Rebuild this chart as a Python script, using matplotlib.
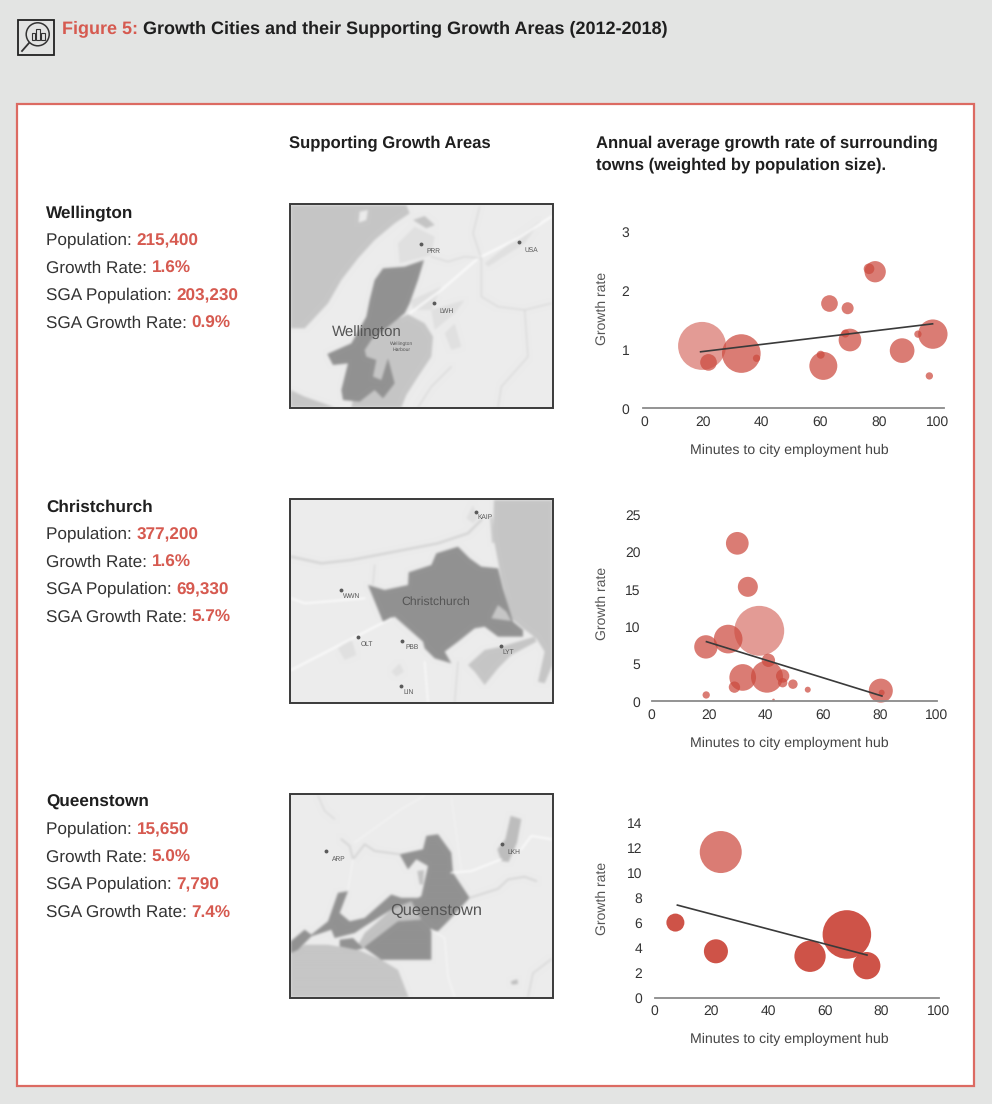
import numpy as np
import matplotlib
matplotlib.use("Agg")
import matplotlib.pyplot as plt
from matplotlib.patches import Polygon, Rectangle, Circle

plt.rcParams['font.family'] = ['Liberation Sans', 'DejaVu Sans']
plt.rcParams['text.hinting'] = 'no_hinting'
plt.rcParams['text.hinting_factor'] = 8

W, H = 992, 1104
BG = '#e3e4e3'
RED = '#d65a50'
DARK = '#1f1f1f'

# ---------- data ----------
cities = ['Wellington', 'Christchurch', 'Queenstown']
population = ['215,400', '377,200', '15,650']
growth = ['1.6%', '1.6%', '5.0%']
sga_population = ['203,230', '69,330', '7,790']
sga_growth = ['0.9%', '5.7%', '7.4%']

wel_minutes = [19.7, 21.9, 33.1, 38.3, 60.2, 61.1, 63.2, 69.4, 68.6, 70.2, 76.7, 78.8, 88.0, 93.4, 98.5, 97.3]
wel_rate = [1.06, 0.78, 0.93, 0.85, 0.91, 0.72, 1.78, 1.70, 1.27, 1.16, 2.37, 2.32, 0.98, 1.26, 1.26, 0.55]
wel_weight = [51.8, 6.25, 33.6, 1.2, 1.44, 17.6, 6.25, 3.24, 1.44, 11.6, 2.56, 10.2, 13.7, 1.2, 19.4, 1.2]
wel_trend_x = [19.2, 98.4]
wel_trend_y = [0.96, 1.435]

chc_minutes = [37.7, 30.0, 33.7, 26.8, 19.0, 40.9, 40.4, 31.9, 29.0, 45.9, 45.9, 49.5, 54.7, 19.1, 42.7, 80.3, 80.6]
chc_rate = [9.46, 21.2, 15.36, 8.35, 7.3, 5.5, 3.3, 3.2, 1.9, 3.4, 2.5, 2.3, 1.56, 0.85, 0.18, 1.43, 1.16]
chc_weight = [56, 11.6, 9, 18.5, 12.3, 4, 23, 16, 2.9, 4, 2, 2, 0.8, 1.2, 0.16, 13, 0.8]
chc_trend_x = [19.2, 80.7]
chc_trend_y = [8.0, 0.71]

qtn_minutes = [23.3, 7.3, 21.6, 54.8, 67.8, 74.8]
qtn_rate = [11.65, 6.0, 3.7, 3.3, 5.05, 2.55]
qtn_weight = [39.7, 7.3, 13, 22, 53, 16.8]
qtn_trend_x = [8.0, 74.9]
qtn_trend_y = [7.4, 3.4]

x_ticks = [0, 20, 40, 60, 80, 100]
wel_y_ticks = [0, 1, 2, 3]
chc_y_ticks = [0, 5, 10, 15, 20, 25]
qtn_y_ticks = [0, 2, 4, 6, 8, 10, 12, 14]

fig = plt.figure(figsize=(W / 100, H / 100), dpi=100, facecolor=BG)
page = fig.add_axes([0, 0, 1, 1])
page.set_xlim(0, W)
page.set_ylim(H, 0)
page.axis('off')
page.add_patch(Rectangle((17, 104), 957, 982, fc='white', ec='#dc6a62', lw=1.6))


def run_text(x, y, parts, size):
    """Lay out text fragments one after another along a baseline."""
    rend = fig.canvas.get_renderer()
    for string, color, weight in parts:
        t = page.text(x, y, string, color=color, fontweight=weight, fontsize=size, va='center', ha='left')
        x = t.get_window_extent(rend).x1


run_text(62, 29, [('Figure 5: ', RED, 'bold'),
                  ('Growth Cities and their Supporting Growth Areas (2012-2018)', DARK, 'bold')], 13.0)

# icon
page.add_patch(Rectangle((17.5, 20), 36, 35, fc='none', ec='#222222', lw=1.3))
page.add_patch(Circle((37.7, 34.3), 11.5, fc='none', ec='#333333', lw=1.1))
page.plot([29, 22], [43, 51], color='#333333', lw=1.3)
page.add_patch(Rectangle((32, 33), 3.4, 7, fc='none', ec='#333333', lw=0.8))
page.add_patch(Rectangle((36, 28.5), 4.4, 11.5, fc='none', ec='#333333', lw=0.8))
page.add_patch(Rectangle((41.3, 33), 3.6, 7, fc='none', ec='#333333', lw=0.8))

HEAD = 11.95
page.text(289, 143, 'Supporting Growth Areas', fontweight='bold', fontsize=HEAD, color=DARK, va='center')
page.text(596, 143, 'Annual average growth rate of surrounding', fontweight='bold', fontsize=HEAD, color=DARK, va='center')
page.text(596, 165, 'towns (weighted by population size).', fontweight='bold', fontsize=HEAD, color=DARK, va='center')

row_tops = [213, 507, 802]
for top, city, pop, gr, sp, sg in zip(row_tops, cities, population, growth, sga_population, sga_growth):
    page.text(46, top, city, fontweight='bold', fontsize=12.3, color=DARK, va='center')
    rows = [('Population: ', pop), ('Growth Rate: ', gr), ('SGA Population: ', sp), ('SGA Growth Rate: ', sg)]
    for dy, (lab, val) in zip((27.5, 55, 82.5, 110), rows):
        run_text(46, top + dy, [(lab, '#333333', 'normal'), (val, RED, 'bold')], 12.3)

# ---------- maps (schematic shapes in a 825 x 636 frame, softened like the scan) ----------
SEA = '#c6c6c6'
CITY = '#929292'
LAND = '#ececec'
PATCH = '#e0e0e0'


def soften(arr, sigma):
    r = int(3 * sigma)
    k = np.exp(-0.5 * (np.arange(-r, r + 1) / sigma) ** 2)
    k /= k.sum()
    out = np.pad(arr, ((r, r), (r, r), (0, 0)), mode='edge').astype(float)
    for ch in range(3):
        out[..., ch] = np.apply_along_axis(lambda v: np.convolve(v, k, mode='same'), 0, out[..., ch])
        out[..., ch] = np.apply_along_axis(lambda v: np.convolve(v, k, mode='same'), 1, out[..., ch])
    return out[r:-r, r:-r]


def draw_map(top, polys, lines, dots, labels):
    off = plt.figure(figsize=(5.5, 4.24), dpi=100, facecolor=LAND)
    oa = off.add_axes([0, 0, 1, 1])
    oa.set_xlim(0, 825)
    oa.set_ylim(636, 0)
    oa.axis('off')
    for pts, col in polys:
        oa.add_patch(Polygon(pts, closed=True, fc=col, ec='none'))
    for pts, col, lw in lines:
        xs, ys = zip(*pts)
        oa.plot(xs, ys, color=col, lw=lw, solid_joinstyle='round')
    off.canvas.draw()
    arr = np.asarray(off.canvas.buffer_rgba())[..., :3] / 255.0
    plt.close(off)
    arr = soften(arr, 2.4)

    ax = fig.add_axes([285 / W, 1 - (top + 212) / H, 275 / W, 212 / H])
    im = ax.imshow(arr, extent=(0, 825, 636, 0), aspect='auto', zorder=0, interpolation='bilinear')
    ax.set_xlim(0, 825)
    ax.set_ylim(636, 0)
    ax.axis('off')
    ax.patch.set_alpha(0)
    im.set_clip_path(Rectangle((16, 12), 789, 612, transform=ax.transData))
    for x, y, name, lx, ly in dots:
        ax.plot([x], [y], 'o', ms=2.8, color='#5a5a5a', mec='none', zorder=3)
        ax.text(lx, ly, name, fontsize=4.8, color='#555555', ha='center', va='center', zorder=3)
    for x, y, name, size in labels:
        ax.text(x, y, name, fontsize=size, color='#555555', ha='center', va='center', zorder=4)
    ax.add_patch(Rectangle((16, 12), 789, 612, fc='none', ec='#3a3a3a', lw=1.4, zorder=5))


draw_map(200,
    [([(18, 15), (365, 15), (375, 40), (330, 70), (270, 120), (220, 175), (170, 240), (130, 310), (60, 385), (18, 385)], SEA),
     ([(18, 570), (60, 590), (150, 622), (18, 622)], SEA),
     ([(225, 35), (250, 30), (245, 60), (222, 68)], LAND),
     ([(320, 365), (370, 343), (420, 370), (445, 410), (440, 470), (400, 530), (365, 585), (350, 622), (200, 622), (240, 440)], SEA),
     ([(385, 60), (420, 48), (450, 75), (425, 85)], '#c4c4c4'),
     ([(340, 130), (390, 80), (450, 110), (440, 165), (345, 190)], PATCH),
     ([(380, 300), (470, 260), (440, 330), (385, 330)], PATCH),
     ([(440, 330), (540, 300), (510, 340), (450, 390)], PATCH),
     ([(600, 190), (700, 110), (770, 60), (720, 130), (610, 200)], PATCH),
     ([(480, 400), (510, 370), (530, 440), (500, 450)], PATCH),
     ([(295, 205), (360, 200), (418, 180), (400, 240), (375, 310), (360, 340), (310, 380), (260, 420), (240, 450), (245, 470), (275, 480),
       (265, 530), (290, 540), (310, 475), (330, 550), (295, 595), (270, 570), (225, 605), (175, 600), (170, 570), (190, 490), (145, 495),
       (128, 462), (200, 430), (245, 350), (255, 300), (270, 240)], CITY)],
    [([(375, 340), (470, 270), (580, 175), (700, 115), (800, 50)], 'white', 2.6),
     ([(585, 20), (565, 100), (590, 175), (590, 290), (640, 320), (720, 330), (800, 310)], '#cdcdcd', 1.2),
     ([(720, 330), (730, 470), (650, 560), (640, 622)], '#cdcdcd', 1.2),
     ([(440, 170), (490, 185), (540, 170), (590, 175)], '#cdcdcd', 1.2),
     ([(500, 500), (440, 560), (400, 622)], '#cdcdcd', 1.2)],
    [(407, 132, 'PRR', 445, 155), (703, 125, 'USA', 740, 150), (447, 308, 'LWH', 485, 333)],
    [(245, 396, 'Wellington', 10.8), (350, 440, 'Wellington\nHarbour', 3.6)])

draw_map(495,
    [([(628, 15), (803, 15), (803, 510), (780, 565), (760, 560), (780, 470), (755, 430), (715, 400), (680, 370), (650, 250), (625, 120)], SEA),
     ([(545, 70), (565, 30), (580, 70), (565, 85)], PATCH),
     ([(160, 460), (200, 430), (215, 480), (180, 495)], PATCH),
     ([(320, 530), (345, 505), (358, 530), (335, 545)], PATCH),
     ([(250, 270), (300, 285), (370, 270), (372, 232), (440, 210), (455, 175), (520, 155), (555, 190), (590, 215), (640, 220), (655, 280),
       (685, 380), (715, 405), (715, 425), (640, 425), (600, 395), (570, 400), (520, 440), (480, 470), (500, 505), (450, 490), (420, 460),
       (415, 440), (330, 365), (295, 380)], CITY),
     ([(640, 330), (665, 350), (680, 378), (620, 370)], SEA),
     ([(550, 510), (600, 465), (650, 455), (750, 425), (755, 440), (680, 480), (640, 520), (600, 570), (570, 530)], SEA)],
    [([(20, 185), (110, 205), (200, 195), (330, 170), (460, 145), (550, 115), (590, 75)], '#d2d2d2', 3.2),
     ([(20, 310), (60, 325), (240, 310)], 'white', 2.2),
     ([(20, 525), (320, 370)], 'white', 2.4),
     ([(270, 210), (265, 268)], '#cccccc', 1.2),
     ([(620, 70), (625, 140)], '#cccccc', 3.5),
     ([(520, 500), (510, 622)], '#cccccc', 1.2),
     ([(420, 500), (430, 622)], 'white', 1.8)],
    [(572, 50, 'KAIP', 600, 67), (167, 284, 'WWN', 200, 303), (220, 427, 'OLT', 247, 446),
     (352, 437, 'PBB', 380, 456), (648, 452, 'LYT', 670, 472), (348, 572, 'LIN', 372, 592)],
    [(452, 319, 'Christchurch', 8.8)])

draw_map(790,
    [([(18, 490), (60, 465), (130, 465), (220, 480), (290, 510), (340, 540), (372, 622), (18, 622)], SEA),
     ([(215, 475), (240, 430), (320, 360), (380, 335), (410, 390), (340, 395), (250, 470)], '#c2c2c2'),
     ([(18, 490), (18, 455), (60, 420), (80, 435), (130, 395), (160, 310), (190, 305), (165, 370), (195, 395), (240, 385), (320, 315),
       (350, 325), (400, 325), (380, 335), (320, 360), (240, 410), (210, 430), (150, 445), (140, 420), (80, 440), (40, 480)], CITY),
     ([(410, 320), (430, 230), (395, 210), (370, 240), (345, 195), (415, 180), (425, 140), (460, 135), (500, 190), (505, 250), (555, 325),
       (490, 395), (460, 425), (440, 420), (410, 390), (380, 335)], CITY),
     ([(410, 390), (440, 420), (440, 510), (290, 510), (240, 475), (215, 480), (165, 470), (165, 450), (205, 445), (235, 475), (340, 395)], CITY),
     ([(398, 245), (418, 242), (415, 285), (405, 285)], '#c2c2c2'),
     ([(678, 80), (710, 90), (697, 160), (672, 218), (650, 215), (638, 180), (662, 150)], '#bdbdbd'),
     ([(678, 575), (698, 568), (700, 582), (682, 584)], '#bdbdbd')],
    [([(555, 325), (640, 298), (670, 270), (720, 262), (755, 275)], '#d0d0d0', 2.2),
     ([(100, 20), (120, 65), (150, 90)], '#cccccc', 1.2),
     ([(170, 150), (195, 170), (205, 210), (240, 165), (270, 185), (345, 195)], '#cfcfcf', 2.2),
     ([(500, 250), (560, 245), (650, 210)], 'white', 2.2),
     ([(710, 180), (740, 140), (800, 150)], 'white', 2.2),
     ([(210, 160), (350, 60), (420, 20)], '#f6f6f6', 1.8),
     ([(205, 210), (190, 300)], '#f6f6f6', 1.8),
     ([(440, 420), (480, 445), (490, 560), (510, 622)], '#f6f6f6', 2.2),
     ([(730, 620), (745, 550), (800, 508)], '#cfcfcf', 1.6),
     ([(500, 25), (530, 240)], '#f6f6f6', 1.4)],
    [(122, 182, 'ARP', 162, 208), (652, 161, 'LKH', 688, 188)],
    [(455, 364, 'Queenstown', 11.8)])


# ---------- bubble charts ----------
def bubble(left, right, top, bottom, xlim, ylim, yticks, xs, ys, w, tx, ty, color, alphas, ylab_y, ypad):
    ax = fig.add_axes([left / W, 1 - bottom / H, (right - left) / W, (bottom - top) / H])
    ax.patch.set_alpha(0)
    ax.set_xlim(*xlim)
    ax.set_ylim(*ylim)
    for s in ('top', 'left', 'right'):
        ax.spines[s].set_visible(False)
    ax.spines['bottom'].set_color('#8a8a8a')
    ax.spines['bottom'].set_linewidth(1.3)
    ax.set_xticks(x_ticks)
    ax.set_yticks(yticks)
    ax.tick_params(length=0, labelsize=10.0, labelcolor='#333333')
    ax.tick_params(axis='x', pad=5.5)
    ax.tick_params(axis='y', pad=ypad)
    sizes = [v * 23.04 for v in w]
    ax.scatter(xs, ys, s=sizes, c=color, alpha=alphas, linewidths=0, clip_on=False, zorder=2)
    ax.plot(tx, ty, color='#3a3a3a', lw=1.2, zorder=3, clip_on=False)
    page.text(789.5, bottom + 42, 'Minutes to city employment hub', fontsize=10.15, color='#444444', ha='center', va='center')
    page.text(602, ylab_y, 'Growth rate', fontsize=10.1, color='#555555', rotation=90, ha='center', va='center')
    return ax


a1 = [0.55] + [0.72] * (len(wel_rate) - 1)
bubble(642.7, 944, 231.7, 408.3, (-0.57, 102.3), (0, 3), wel_y_ticks,
       wel_minutes, wel_rate, wel_weight, wel_trend_x, wel_trend_y, '#cc4a3e', a1, 308, 9.5)
a2 = [0.55] + [0.72] * (len(chc_rate) - 1)
bubble(651.7, 937, 515, 701.3, (1.0, 100.0), (0, 25), chc_y_ticks,
       chc_minutes, chc_rate, chc_weight, chc_trend_x, chc_trend_y, '#cc4a3e', a2, 603, 8.2)
a3 = [0.72] + [0.95] * (len(qtn_rate) - 1)
bubble(654.7, 939, 822.7, 997.5, (0, 100.3), (0, 14), qtn_y_ticks,
       qtn_minutes, qtn_rate, qtn_weight, qtn_trend_x, qtn_trend_y, '#cc4a3e', a3, 898, 8.8)

fig.savefig('out.png', dpi=100, facecolor=BG)
